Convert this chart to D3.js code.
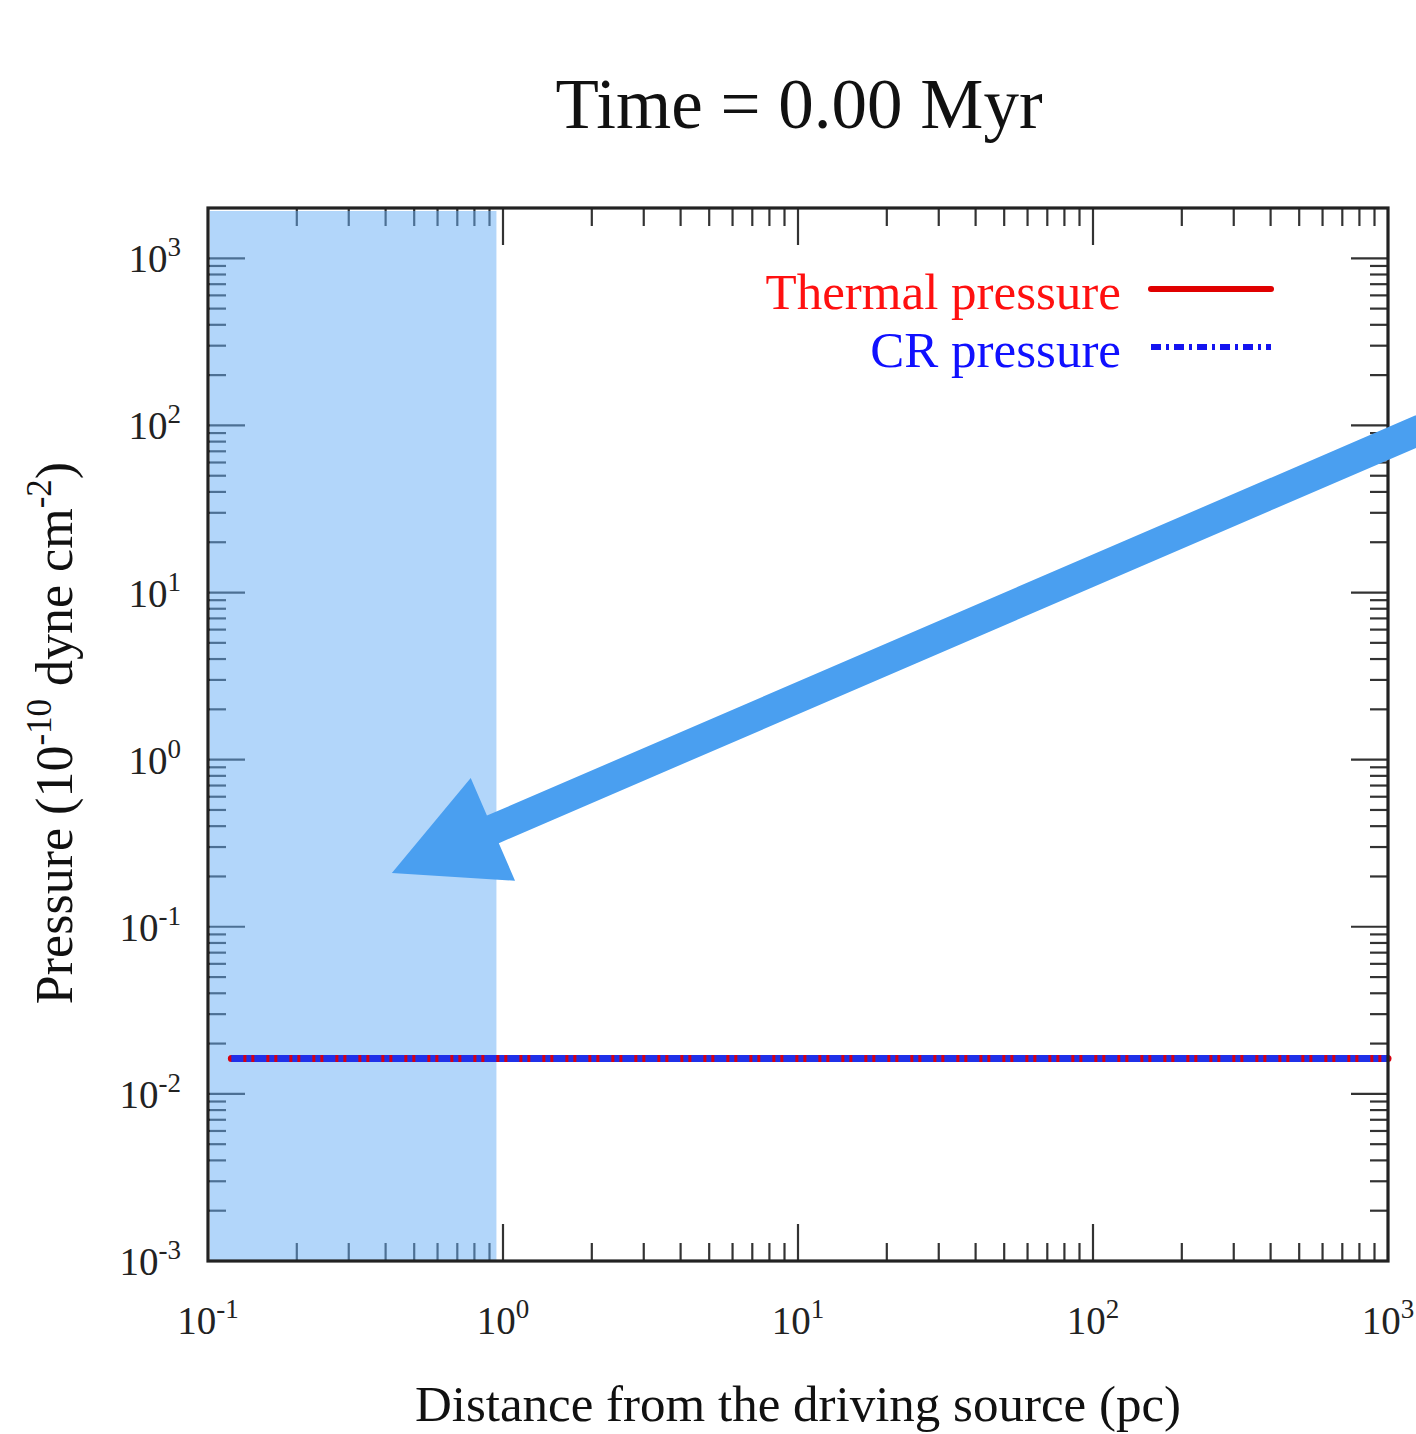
<!DOCTYPE html>
<html><head><meta charset="utf-8">
<script src="https://cdn.jsdelivr.net/npm/d3@7"></script>
<style>body{margin:0;background:#fff}svg{display:block}text{font-family:"Liberation Serif","Times New Roman",serif}</style>
</head><body>
<script>
// ---- data ----
const title = "Time = 0.00 Myr";
const distance = [0.12, 0.2, 0.3, 0.5, 1, 2, 3, 5, 10, 20, 30, 50, 100, 200, 300, 500, 1000];
const thermalPressure = [0.0163, 0.0163, 0.0163, 0.0163, 0.0163, 0.0163, 0.0163, 0.0163, 0.0163, 0.0163, 0.0163, 0.0163, 0.0163, 0.0163, 0.0163, 0.0163, 0.0163];
const crPressure = [0.0163, 0.0163, 0.0163, 0.0163, 0.0163, 0.0163, 0.0163, 0.0163, 0.0163, 0.0163, 0.0163, 0.0163, 0.0163, 0.0163, 0.0163, 0.0163, 0.0163];
const xDomain = [0.1, 1000];
const yDomain = [1e-3, 2e3];
const xTickExps = [-1, 0, 1, 2, 3];
const yTickExps = [-3, -2, -1, 0, 1, 2, 3];
const seriesNames = ["Thermal pressure", "CR pressure"];
const shadedRange = [0.1, 0.95];
const arrowTail = [1300, 95];
const arrowTip = [0.42, 0.21];

// ---- layout ----
const W = 1416, H = 1434;
const L = 208, R = 1388, T = 208, B = 1261;
const svg = d3.select("body").append("svg").attr("width", W).attr("height", H);
const x = d3.scaleLog().domain(xDomain).range([L, R]);
const y = d3.scaleLog().domain(yDomain).range([B, T]);

// title
svg.append("text").attr("x", 799).attr("y", 128).attr("text-anchor", "middle")
  .attr("font-size", 71).attr("fill", "#111").text(title);

// ticks
const tickG = svg.append("g").attr("stroke", "#333").attr("stroke-width", 2.2);
const isMajor = v => Math.abs(Math.log10(v) - Math.round(Math.log10(v))) < 1e-6;
x.ticks().forEach(v => {
  const px = x(v);
  if (px <= L + 1 || px >= R - 1) return;
  const len = isMajor(v) ? 37 : 18;
  tickG.append("line").attr("x1", px).attr("x2", px).attr("y1", B).attr("y2", B - len);
  tickG.append("line").attr("x1", px).attr("x2", px).attr("y1", T).attr("y2", T + len);
});
y.ticks().forEach(v => {
  const py = y(v);
  if (py <= T + 1 || py >= B - 1) return;
  const len = isMajor(v) ? 37 : 18;
  tickG.append("line").attr("x1", L).attr("x2", L + len).attr("y1", py).attr("y2", py);
  tickG.append("line").attr("x1", R).attr("x2", R - len).attr("y1", py).attr("y2", py);
});

// shaded region (overlay)
svg.append("rect").attr("x", x(shadedRange[0]) + 2).attr("y", T + 3)
  .attr("width", x(shadedRange[1]) - x(shadedRange[0]) - 2).attr("height", B - T - 3)
  .attr("fill", "rgb(102,173,245)").attr("fill-opacity", 0.5);

// series
const line = d3.line().x((d, i) => x(distance[i])).y(d => y(d));
svg.append("path").datum(thermalPressure).attr("d", line).attr("fill", "none")
  .attr("stroke", "#d80010").attr("stroke-width", 7).attr("stroke-linecap", "round");
svg.append("path").datum(crPressure).attr("d", line).attr("fill", "none")
  .attr("stroke", "#2030e8").attr("stroke-width", 7).attr("stroke-dasharray", "12,3,5,3");

// frame
svg.append("rect").attr("x", L).attr("y", T).attr("width", R - L).attr("height", B - T)
  .attr("fill", "none").attr("stroke", "#222").attr("stroke-width", 3.2);

// tick labels
xTickExps.forEach(e => {
  const t = svg.append("text").attr("x", x(Math.pow(10, e))).attr("y", 1334)
    .attr("text-anchor", "middle").attr("font-size", 39).attr("fill", "#222");
  t.append("tspan").text("10");
  t.append("tspan").attr("font-size", 27).attr("dy", -16).text(String(e));
});
yTickExps.forEach(e => {
  const t = svg.append("text").attr("x", 181).attr("y", y(Math.pow(10, e)) + 14)
    .attr("text-anchor", "end").attr("font-size", 39).attr("fill", "#222");
  t.append("tspan").text("10");
  t.append("tspan").attr("font-size", 27).attr("dy", -16).text(String(e));
});

// axis titles
svg.append("text").attr("x", 798).attr("y", 1421).attr("text-anchor", "middle")
  .attr("font-size", 51).attr("fill", "#111").text("Distance from the driving source (pc)");
const yt = svg.append("text").attr("transform", "translate(72,733) rotate(-90)")
  .attr("text-anchor", "middle").attr("font-size", 52).attr("fill", "#111");
yt.append("tspan").text("Pressure (10");
yt.append("tspan").attr("font-size", 35).attr("dy", -21).text("-10");
yt.append("tspan").attr("dy", 21).text(" dyne cm");
yt.append("tspan").attr("font-size", 35).attr("dy", -21).text("-2");
yt.append("tspan").attr("dy", 21).text(")");

// legend
const legColors = ["#ff1010", "#1010ff"];
const legLine = ["#e00000", "#1414f0"];
const legDash = [null, "10,5,3,5"];
seriesNames.forEach((n, i) => {
  const ly = 289 + i * 58;
  svg.append("text").attr("x", 1121).attr("y", ly + 20).attr("text-anchor", "end")
    .attr("font-size", 51).attr("fill", legColors[i]).text(n);
  svg.append("line").attr("x1", 1151).attr("x2", 1271).attr("y1", ly).attr("y2", ly)
    .attr("stroke", legLine[i]).attr("stroke-width", 6)
    .attr("stroke-dasharray", legDash[i]).attr("stroke-linecap", i === 0 ? "round" : "butt");
});

// arrow annotation
const tx = x(arrowTail[0]), ty = y(arrowTail[1]);
const hx = x(arrowTip[0]), hy = y(arrowTip[1]);
const dx = hx - tx, dy = hy - ty, len = Math.hypot(dx, dy);
const ux = dx / len, uy = dy / len, nx = -uy, ny = ux;
const headLen = 110, headHalf = 56, shaftHalf = 15;
const bx = hx - ux * headLen, by = hy - uy * headLen;
const pts = [
  [tx + nx * shaftHalf, ty + ny * shaftHalf],
  [bx + nx * shaftHalf, by + ny * shaftHalf],
  [bx + nx * headHalf, by + ny * headHalf],
  [hx, hy],
  [bx - nx * headHalf, by - ny * headHalf],
  [bx - nx * shaftHalf, by - ny * shaftHalf],
  [tx - nx * shaftHalf, ty - ny * shaftHalf]
];
svg.append("path").attr("d", "M" + pts.map(p => p.join(",")).join("L") + "Z")
  .attr("fill", "#4a9ff0");
</script>
</body></html>
